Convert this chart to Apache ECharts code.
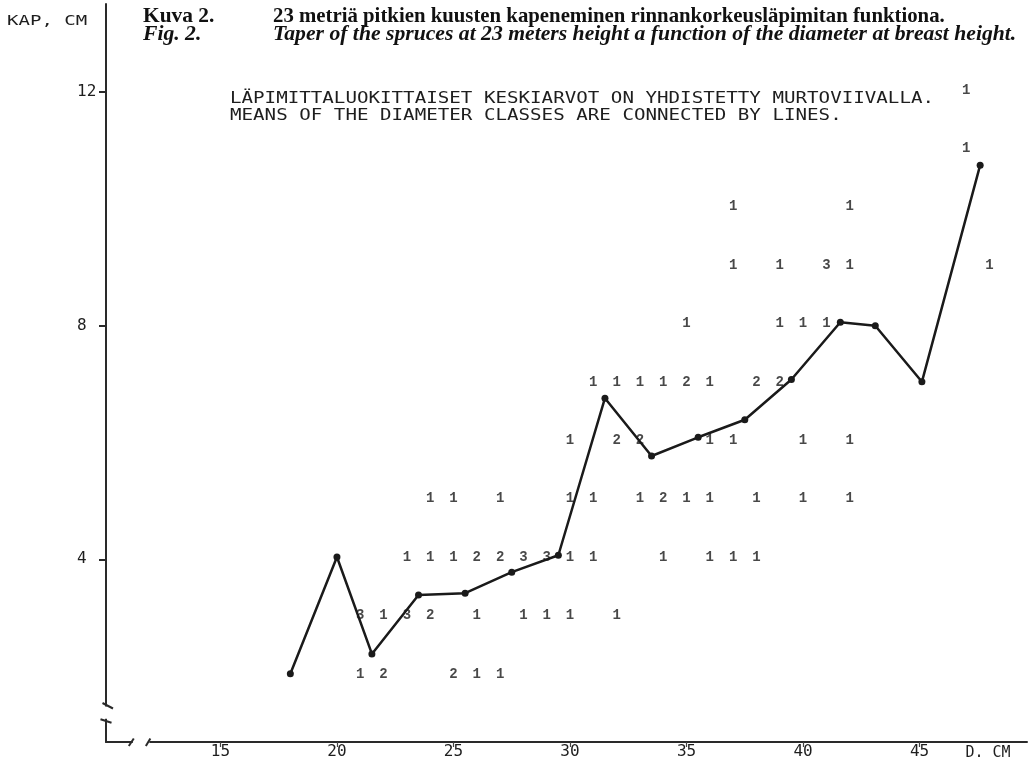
<!DOCTYPE html>
<html><head><meta charset="utf-8">
<script src="https://cdn.jsdelivr.net/npm/echarts@6/dist/echarts.min.js"></script>
<style>html,body{margin:0;padding:0;background:#fff}#c{width:1032px;height:759px}</style>
</head><body><div id="c"></div>
<script>
// Diameter-class means (D, cm) and taper (KAP, cm)
const meanD   = [18, 20, 21.5, 23.5, 25.5, 27.5, 29.5, 31.5, 33.5, 35.5, 37.5, 39.5, 41.6, 43.1, 45.1, 47.6];
const meanKap = [2.04, 4.04, 2.38, 3.39, 3.42, 3.78, 4.07, 6.76, 5.77, 6.09, 6.39, 7.08, 8.06, 8.00, 7.04, 10.75];

// Observation counts printed in the plot: diameter, taper, number of trees
const countD = [
  21, 22, 25, 26, 27,
  21, 22, 23, 24, 26, 28, 29, 30, 32,
  23, 24, 25, 26, 27, 28, 29, 30, 31, 34, 36, 37, 38,
  24, 25, 27, 30, 31, 33, 34, 35, 36, 38, 40, 42,
  30, 32, 33, 36, 37, 40, 42,
  31, 32, 33, 34, 35, 36, 38, 39,
  35, 39, 40, 41,
  37, 39, 41, 42, 48,
  37, 42,
  47,
  47
];
const countKap = [
  2, 2, 2, 2, 2,
  3, 3, 3, 3, 3, 3, 3, 3, 3,
  4, 4, 4, 4, 4, 4, 4, 4, 4, 4, 4, 4, 4,
  5, 5, 5, 5, 5, 5, 5, 5, 5, 5, 5, 5,
  6, 6, 6, 6, 6, 6, 6,
  7, 7, 7, 7, 7, 7, 7, 7,
  8, 8, 8, 8,
  9, 9, 9, 9, 9,
  10, 10,
  11,
  12
];
const countN = [
  1, 2, 2, 1, 1,
  3, 1, 3, 2, 1, 1, 1, 1, 1,
  1, 1, 1, 2, 2, 3, 3, 1, 1, 1, 1, 1, 1,
  1, 1, 1, 1, 1, 1, 2, 1, 1, 1, 1, 1,
  1, 2, 2, 1, 1, 1, 1,
  1, 1, 1, 1, 2, 1, 2, 2,
  1, 1, 1, 1,
  1, 1, 3, 1, 1,
  1, 1,
  1,
  1
];

const xTicks = [15, 20, 25, 30, 35, 40, 45];
const yTicks = [4, 8, 12];
const xMin = 10.09, xMax = 49.61, yMin = 0.872, yMax = 13.51;
const xBreak = [11.24, 11.95];
const yBreak = [1.27, 1.48];

const titleFi1 = 'Kuva 2.';
const titleFi2 = '23 metriä pitkien kuusten kapeneminen rinnankorkeusläpimitan funktiona.';
const titleEn1 = 'Fig. 2.';
const titleEn2 = 'Taper of the spruces at 23 meters height a function of the diameter at breast height.';
const noteFi = 'LÄPIMITTALUOKITTAISET KESKIARVOT ON YHDISTETTY MURTOVIIVALLA.';
const noteEn = 'MEANS OF THE DIAMETER CLASSES ARE CONNECTED BY LINES.';
const yName = 'KAP, CM';
const xName = 'D. CM';

const ink = '#1e1e1e';
const mono = '"DejaVu Sans Mono", monospace';
const serif = '"Liberation Serif", "DejaVu Serif", serif';

const chart = echarts.init(document.getElementById('c'), null, {renderer: 'canvas'});

const textGraphics = [
  {type: 'text', x: 7, y: 21, scaleX: 1.36, z: 50, style: {text: yName, font: '14px ' + mono, fill: ink, verticalAlign: 'middle'}},
  {type: 'text', x: 143, y: 17, scaleX: 1.02, z: 50, style: {text: titleFi1, font: 'bold 21px ' + serif, fill: '#111', verticalAlign: 'middle'}},
  {type: 'text', x: 273, y: 17, scaleX: 0.99, z: 50, style: {text: titleFi2, font: 'bold 21px ' + serif, fill: '#111', verticalAlign: 'middle'}},
  {type: 'text', x: 143, y: 35, scaleX: 1.03, z: 50, style: {text: titleEn1, font: 'italic bold 21px ' + serif, fill: '#111', verticalAlign: 'middle'}},
  {type: 'text', x: 273, y: 35, scaleX: 1.032, z: 50, style: {text: titleEn2, font: 'italic bold 21px ' + serif, fill: '#111', verticalAlign: 'middle'}},
  {type: 'text', x: 230, y: 99, scaleX: 1.278, z: 50, style: {text: noteFi, font: '15px ' + mono, fill: ink, verticalAlign: 'middle'}},
  {type: 'text', x: 230, y: 116, scaleX: 1.278, z: 50, style: {text: noteEn, font: '15px ' + mono, fill: ink, verticalAlign: 'middle'}}
];

const option = {
  backgroundColor: '#ffffff',
  animation: false,
  grid: {left: 106, right: 5, top: 4, bottom: 17, outerBoundsMode: 'none'},
  xAxis: {
    type: 'value', min: xMin, max: xMax,
    name: xName, nameLocation: 'end', nameGap: -39, nameMoveOverlap: false,
    nameTextStyle: {fontFamily: mono, fontSize: 15, color: ink, align: 'center', verticalAlign: 'top', padding: [4, 0, 0, 0]},
    axisLine: {show: true, lineStyle: {color: '#2a2a2a', width: 2}},
    axisTick: {show: true, customValues: xTicks, length: 5, lineStyle: {color: '#444', width: 1.2}},
    axisLabel: {show: true, customValues: xTicks, margin: 2, fontFamily: mono, fontSize: 16, color: ink},
    splitLine: {show: false}
  },
  yAxis: {
    type: 'value', min: yMin, max: yMax,
    axisLine: {show: true, lineStyle: {color: '#2a2a2a', width: 2}},
    axisTick: {show: true, customValues: yTicks, length: 7, lineStyle: {color: '#2a2a2a', width: 2}},
    axisLabel: {show: true, customValues: yTicks, margin: 29, align: 'left', fontFamily: mono, fontSize: 16, color: ink},
    splitLine: {show: false}
  },
  series: [
    {
      type: 'line', name: 'means',
      data: meanD.map((d, i) => [d, meanKap[i]]),
      symbol: 'circle', symbolSize: 7,
      lineStyle: {color: '#1a1a1a', width: 2.5},
      itemStyle: {color: '#1a1a1a'},
      z: 3
    },
    {
      type: 'scatter', name: 'counts',
      data: countD.map((d, i) => [d, countKap[i], countN[i]]),
      symbolSize: 0,
      itemStyle: {color: 'rgba(0,0,0,0)'},
      label: {show: true, position: 'inside', formatter: p => String(p.value[2]),
        fontFamily: '"Liberation Mono", monospace', fontWeight: 'bold', fontSize: 14, color: '#1a1a1a', offset: [0, -2]},
      z: 2
    }
  ],
  graphic: textGraphics
};
chart.setOption(option);

// axis break decorations, placed through the axes' own scales
const X = v => chart.convertToPixel({xAxisIndex: 0}, v);
const Y = v => chart.convertToPixel({yAxisIndex: 0}, v);
const ax = X(xMin), ay = Y(yMin);
const yTop = Y(yBreak[1]), yBot = Y(yBreak[0]);
const xL = X(xBreak[0]), xR = X(xBreak[1]);
const brk = {stroke: '#2a2a2a', lineWidth: 2};
chart.setOption({
  graphic: textGraphics.concat([
    {type: 'rect', z: 60, shape: {x: ax - 5, y: yTop, width: 10, height: yBot - yTop}, style: {fill: '#ffffff'}},
    {type: 'line', z: 61, shape: {x1: ax - 3.5, y1: yTop - 3.5, x2: ax + 7, y2: yTop + 2}, style: brk},
    {type: 'line', z: 61, shape: {x1: ax - 5.5, y1: yBot + 0.5, x2: ax + 5.5, y2: yBot + 4}, style: brk},
    {type: 'rect', z: 60, shape: {x: xL, y: ay - 5, width: xR - xL, height: 10}, style: {fill: '#ffffff'}},
    {type: 'line', z: 61, shape: {x1: xL - 4, y1: ay + 4, x2: xL + 1, y2: ay - 3.5}, style: brk},
    {type: 'line', z: 61, shape: {x1: xR - 3.5, y1: ay + 4, x2: xR + 1, y2: ay - 3.5}, style: brk}
  ])
});
</script>
</body></html>
